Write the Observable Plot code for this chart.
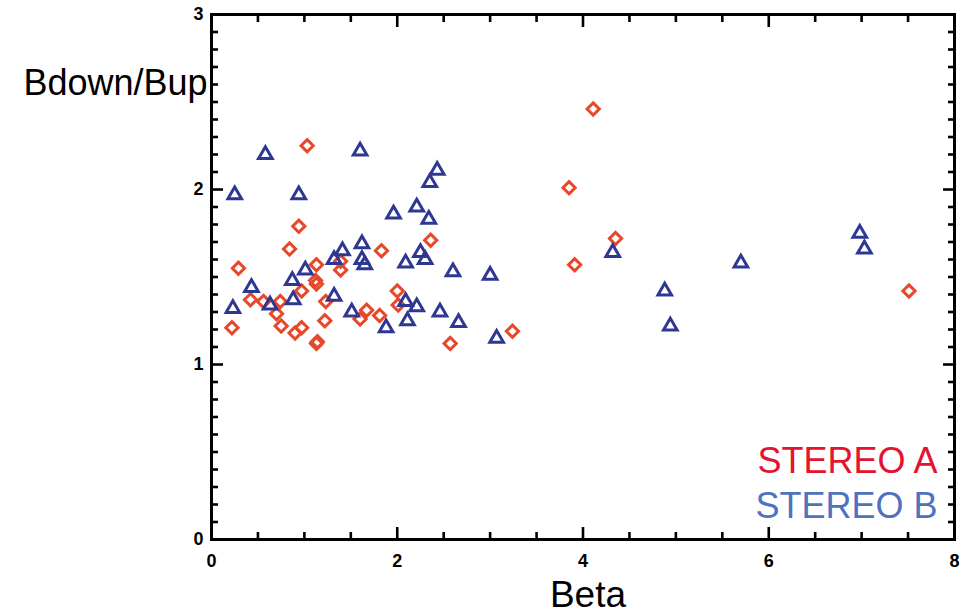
<!DOCTYPE html>
<html>
<head>
<meta charset="utf-8">
<script src="https://cdn.jsdelivr.net/npm/d3@7"></script>
<script src="https://cdn.jsdelivr.net/npm/@observablehq/plot@0.6"></script>
<style>
  html, body { margin: 0; padding: 0; background: #fff; }
  #chart { width: 967px; height: 615px; }
</style>
</head>
<body>
<div id="chart"></div>
<script>
// STEREO A (red diamonds)
const stereoA_beta  = [4.11, 1.03, 3.85, 0.94, 2.36, 4.35, 0.84, 1.83, 0.29, 1.13, 1.39, 1.39, 3.91, 1.12, 1.13, 0.97, 2.00, 0.42, 0.56, 0.74, 1.23, 2.01, 0.70, 1.67, 1.81, 1.60, 1.22, 0.75, 0.22, 0.97, 0.90, 3.24, 1.13, 1.14, 2.57, 7.51];
const stereoA_ratio = [2.46, 2.25, 2.01, 1.79, 1.71, 1.72, 1.66, 1.65, 1.55, 1.57, 1.59, 1.54, 1.57, 1.48, 1.46, 1.42, 1.42, 1.37, 1.36, 1.36, 1.36, 1.34, 1.29, 1.31, 1.28, 1.26, 1.25, 1.22, 1.21, 1.21, 1.18, 1.19, 1.12, 1.13, 1.12, 1.42];

// STEREO B (blue triangles)
const stereoB_beta  = [0.25, 0.58, 1.60, 0.94, 2.43, 2.35, 1.96, 2.21, 2.34, 1.62, 1.62, 1.65, 1.41, 1.32, 1.01, 2.25, 2.30, 2.09, 2.60, 3.00, 0.43, 0.87, 0.88, 1.32, 0.23, 0.63, 1.51, 2.09, 2.21, 2.46, 1.88, 2.11, 2.66, 3.07, 4.32, 4.88, 4.94, 5.70, 6.98, 7.03];
const stereoB_ratio = [1.97, 2.20, 2.22, 1.97, 2.11, 2.04, 1.86, 1.90, 1.83, 1.69, 1.60, 1.57, 1.65, 1.60, 1.54, 1.64, 1.60, 1.58, 1.53, 1.51, 1.44, 1.48, 1.37, 1.39, 1.32, 1.34, 1.30, 1.36, 1.33, 1.30, 1.21, 1.25, 1.24, 1.15, 1.64, 1.42, 1.22, 1.58, 1.75, 1.66];

// Axis ticks
const xMajorTicks = [0, 2, 4, 6, 8];
const xMinorTicks = [0.5, 1, 1.5, 2.5, 3, 3.5, 4.5, 5, 5.5, 6.5, 7, 7.5];
const yMajorTicks = [0, 1, 2, 3];
const yMinorTicks = d3.range(0, 3.0001, 0.1).map(v => +v.toFixed(1)).filter(v => !yMajorTicks.includes(v));

const legendLabels = ["STEREO A", "STEREO B"];
const xLabel = ["Beta"];
const yLabel = ["Bdown/Bup"];

const dataA = stereoA_beta.map((b, i) => ({beta: b, ratio: stereoA_ratio[i]}));
const dataB = stereoB_beta.map((b, i) => ({beta: b, ratio: stereoB_ratio[i]}));

const tickStyle = {stroke: "black", strokeWidth: 2.6, label: null, tickFormat: () => ""};

const chart = Plot.plot({
  width: 967,
  height: 615,
  marginLeft: 211,
  marginRight: 13,
  marginTop: 14,
  marginBottom: 76,
  style: {fontFamily: "'Liberation Sans', Arial, sans-serif", background: "white", color: "black"},
  x: {domain: [0, 8]},
  y: {domain: [0, 3]},
  marks: [
    // inward ticks: bottom
    Plot.axisX(xMajorTicks, {anchor: "bottom", tickSize: 12, dy: -12, ...tickStyle}),
    Plot.axisX(xMinorTicks, {anchor: "bottom", tickSize: 7, dy: -7, ...tickStyle}),
    // top
    Plot.axisX(xMajorTicks, {anchor: "top", tickSize: 12, dy: 12, ...tickStyle}),
    Plot.axisX(xMinorTicks, {anchor: "top", tickSize: 7, dy: 7, ...tickStyle}),
    // left
    Plot.axisY(yMajorTicks, {anchor: "left", tickSize: 12, dx: 12, ...tickStyle}),
    Plot.axisY(yMinorTicks, {anchor: "left", tickSize: 7, dx: 7, ...tickStyle}),
    // right
    Plot.axisY(yMajorTicks, {anchor: "right", tickSize: 12, dx: -12, ...tickStyle}),
    Plot.axisY(yMinorTicks, {anchor: "right", tickSize: 7, dx: -7, ...tickStyle}),
    // tick labels
    Plot.text(xMajorTicks, {x: d => d, frameAnchor: "bottom", text: d => String(d), lineAnchor: "middle", dy: 22, fontSize: 18, fontWeight: "bold", fill: "black"}),
    Plot.text(yMajorTicks, {y: d => d, frameAnchor: "left", text: d => String(d), textAnchor: "end", lineAnchor: "middle", dx: -8, fontSize: 18, fontWeight: "bold", fill: "black"}),
    Plot.frame({stroke: "black", strokeWidth: 3}),
    Plot.dot(dataA, {x: "beta", y: "ratio", symbol: "diamond2", r: 5.5, stroke: "#e8482a", strokeWidth: 3}),
    Plot.dot(dataB, {x: "beta", y: "ratio", symbol: "triangle2", r: 6.5, stroke: "#2e3892", strokeWidth: 3}),
    // legend
    Plot.text([legendLabels[0]], {frameAnchor: "bottom-right", text: d => d, textAnchor: "end", lineAnchor: "middle", dx: -17, dy: -78, fontSize: 36, fill: "#e4132f"}),
    Plot.text([legendLabels[1]], {frameAnchor: "bottom-right", text: d => d, textAnchor: "end", lineAnchor: "middle", dx: -17, dy: -33, fontSize: 36, fill: "#4f72bf"}),
    // axis titles
    Plot.text(xLabel, {frameAnchor: "bottom", text: d => d, textAnchor: "middle", lineAnchor: "middle", dx: 5, dy: 56, fontSize: 37, fill: "black"}),
    Plot.text(yLabel, {frameAnchor: "top-left", text: d => d, textAnchor: "middle", lineAnchor: "middle", dx: -96, dy: 69, fontSize: 36, fill: "black"})
  ]
});
document.getElementById("chart").appendChild(chart);
</script>
</body>
</html>
